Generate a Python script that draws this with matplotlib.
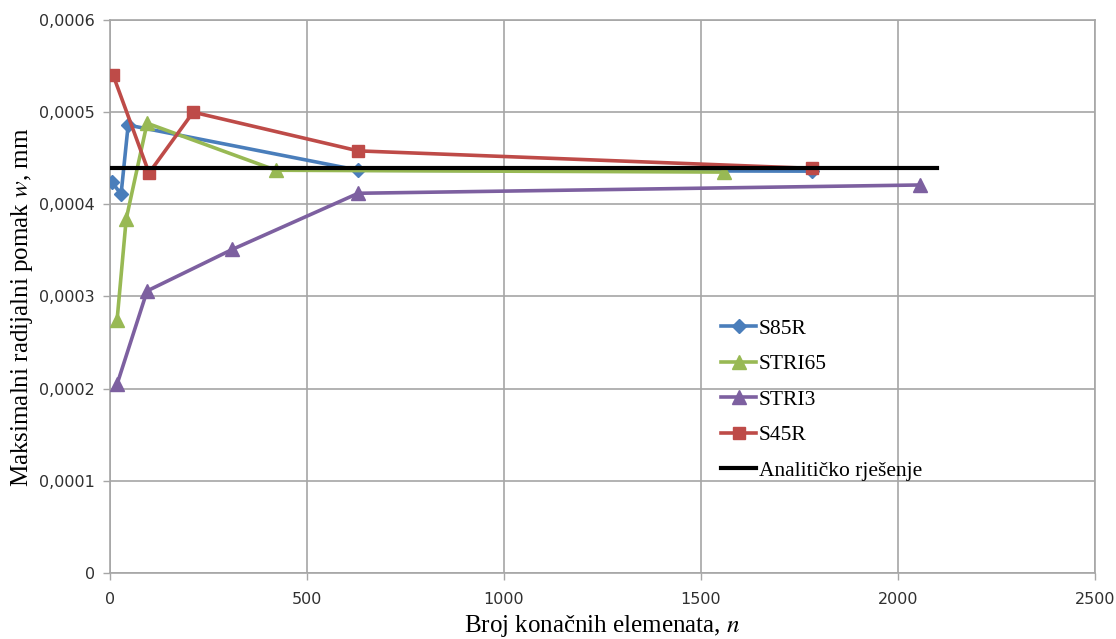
import numpy as np
import matplotlib
matplotlib.use('Agg')
import matplotlib.pyplot as plt

# data
s85r_n = [5, 28, 46, 630, 1782]
s85r_w = [0.000424, 0.000411, 0.000486, 0.000437, 0.000436]

stri65_n = [18, 41, 94, 421, 1558]
stri65_w = [0.000275, 0.000384, 0.000488, 0.000437, 0.000435]

stri3_n = [18, 94, 310, 630, 2056]
stri3_w = [0.000205, 0.000306, 0.000351, 0.000412, 0.000421]

s45r_n = [8, 99, 211, 630, 1782]
s45r_w = [0.000540, 0.000434, 0.000500, 0.000458, 0.000439]

analytic_n = [0, 2100]
analytic_w = [0.000439, 0.000439]

plt.rcParams['mathtext.fontset'] = 'stix'

fig = plt.figure(figsize=(11.16, 6.39), dpi=100)
ax = fig.add_axes([0.0986, 0.1033, 0.8825, 0.8654])

lw = 2.6
ax.plot(s85r_n, s85r_w, color='#4a7ebb', marker='D', markersize=7, lw=lw, label='S85R', zorder=3)
ax.plot(stri65_n, stri65_w, color='#98b954', marker='^', markersize=10, lw=lw, label='STRI65', zorder=3)
ax.plot(stri3_n, stri3_w, color='#7d60a0', marker='^', markersize=10, lw=lw, label='STRI3', zorder=3)
ax.plot(s45r_n, s45r_w, color='#be4b48', marker='s', markersize=9, lw=lw, label='S45R', zorder=3)
ax.plot(analytic_n, analytic_w, color='black', lw=3, label='Analitičko rješenje', zorder=4)

ax.set_xlim(0, 2500)
ax.set_ylim(0, 0.0006)
ax.set_xticks(np.arange(0, 2501, 500))
ax.set_yticks(np.arange(0, 0.00061, 0.0001))
ax.set_yticklabels(['0', '0,0001', '0,0002', '0,0003', '0,0004', '0,0005', '0,0006'])
ax.tick_params(labelsize=11.5, colors='#a6a6a6', labelcolor='#303030', length=5, width=1, pad=6)
ax.tick_params(axis='x', pad=9)

ax.grid(True, color='#a6a6a6', lw=1.2)
ax.set_axisbelow(True)
for s in ax.spines.values():
    s.set_color('#a6a6a6')
    s.set_linewidth(1.2)

ax.set_xlabel('Broj konačnih elemenata, $\\mathit{n}$', fontsize=18, family='Liberation Serif', labelpad=4)
ax.set_ylabel('Maksimalni radijalni pomak $\\mathit{w}$, mm', fontsize=18, family='Liberation Serif')
ax.yaxis.set_label_coords(-0.076, 0.481)

ax.legend(loc='upper left', bbox_to_anchor=(0.601, 0.495), frameon=False,
          prop={'family': 'Liberation Serif', 'size': 15.5}, handlelength=1.6,
          handletextpad=0.15, labelspacing=0.72)

fig.savefig('out.png', dpi=100)
